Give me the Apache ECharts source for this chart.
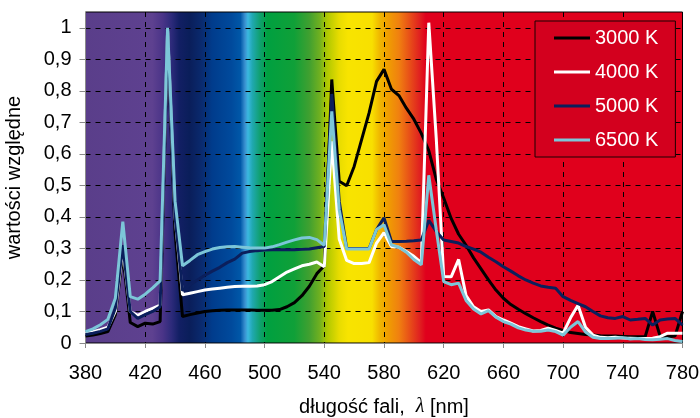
<!DOCTYPE html>
<html>
<head>
<meta charset="utf-8">
<script src="https://cdn.jsdelivr.net/npm/echarts@6/dist/echarts.min.js"></script>
<style>
  html, body { margin: 0; padding: 0; background: #ffffff; }
  #chart { width: 700px; height: 418px; }
</style>
</head>
<body>
<div id="chart"></div>
<script>
// Wavelength grid (nm)
const wavelengths = [380,385,390,395,400,405,410,415,420,425,430,435,440,445,450,455,460,465,470,475,
  480,485,490,495,500,505,510,515,520,525,530,535,540,545,550,555,560,565,570,575,
  580,585,590,595,600,605,610,615,620,625,630,635,640,645,650,655,660,665,670,675,
  680,685,690,695,700,705,710,715,720,725,730,735,740,745,750,755,760,765,770,775,780];

// Relative spectral power of each lamp
const k3000 = [0.022,0.025,0.03,0.036,0.09,0.28,0.065,0.052,0.063,0.06,0.068,0.97,0.35,0.084,0.09,0.095,0.1,0.102,0.104,0.105,
  0.105,0.105,0.105,0.104,0.104,0.104,0.106,0.115,0.128,0.15,0.18,0.22,0.245,0.836,0.513,0.499,0.56,0.645,0.73,0.83,
  0.868,0.805,0.785,0.745,0.71,0.665,0.61,0.52,0.46,0.395,0.345,0.31,0.27,0.235,0.2,0.168,0.142,0.122,0.107,0.093,
  0.08,0.068,0.057,0.047,0.04,0.033,0.03,0.027,0.025,0.023,0.022,0.022,0.021,0.02,0.02,0.02,0.1,0.022,0.02,0.022,0.1];

const k4000 = [0.031,0.036,0.042,0.05,0.1,0.3,0.1,0.088,0.1,0.11,0.12,0.99,0.4,0.153,0.158,0.163,0.168,0.171,0.174,0.177,
  0.179,0.18,0.18,0.181,0.185,0.195,0.21,0.225,0.235,0.245,0.25,0.257,0.242,0.64,0.33,0.262,0.252,0.252,0.255,0.317,
  0.35,0.306,0.304,0.29,0.275,0.255,1.016,0.65,0.211,0.21,0.265,0.15,0.115,0.1,0.105,0.084,0.073,0.063,0.052,0.045,
  0.038,0.04,0.047,0.04,0.031,0.08,0.12,0.05,0.025,0.018,0.017,0.018,0.016,0.015,0.014,0.014,0.015,0.02,0.031,0.031,0.031];

const k5000 = [0.027,0.031,0.037,0.045,0.11,0.31,0.1,0.078,0.09,0.1,0.115,0.98,0.4,0.166,0.185,0.2,0.215,0.228,0.24,0.255,
  0.266,0.285,0.29,0.293,0.295,0.296,0.296,0.296,0.296,0.297,0.298,0.302,0.306,0.79,0.45,0.3,0.3,0.3,0.3,0.36,
  0.397,0.322,0.322,0.323,0.324,0.327,0.389,0.354,0.327,0.322,0.317,0.306,0.298,0.288,0.272,0.258,0.242,0.228,0.213,0.2,
  0.19,0.181,0.177,0.174,0.147,0.135,0.125,0.115,0.1,0.086,0.08,0.078,0.084,0.073,0.075,0.078,0.057,0.073,0.076,0.078,0.057];

const k6500 = [0.036,0.045,0.058,0.075,0.142,0.385,0.147,0.139,0.155,0.175,0.197,1.0,0.45,0.245,0.262,0.28,0.29,0.298,0.303,0.305,
  0.306,0.304,0.302,0.301,0.301,0.305,0.312,0.32,0.327,0.333,0.335,0.328,0.31,0.735,0.423,0.298,0.298,0.298,0.298,0.36,
  0.375,0.311,0.304,0.288,0.265,0.248,0.532,0.36,0.195,0.185,0.19,0.135,0.108,0.092,0.103,0.082,0.068,0.06,0.048,0.041,
  0.037,0.037,0.041,0.036,0.025,0.05,0.068,0.035,0.018,0.014,0.014,0.015,0.017,0.013,0.014,0.011,0.01,0.012,0.014,0.008,0.005];

const seriesNames = ['3000 K', '4000 K', '5000 K', '6500 K'];
const seriesValues = [k3000, k4000, k5000, k6500];
const seriesColors = ['#000000', '#ffffff', '#0b1f5c', '#7cc6d8'];

// Labelled value ticks on the vertical axis
const yTicks = [0, 0.1, 0.2, 0.3, 0.4, 0.5, 0.6, 0.7, 0.8, 0.9, 1];

// Backdrop colours of the visible spectrum: [wavelength nm, colour]
const spectrumStops = [
  [380, '#5a3e8a'], [425, '#5e4190'], [432, '#4a3488'], [438, '#2c2a7a'], [443, '#121f64'],
  [450, '#0a1e5a'], [458, '#0a2a6e'], [465, '#003c8c'], [478, '#004a9c'], [484, '#0058a8'],
  [487, '#3a90d0'], [489, '#3ab8e0'], [492, '#20a8b0'], [497, '#10a070'], [502, '#00a040'],
  [520, '#10a038'], [530, '#40a030'], [537, '#70b020'], [542, '#b0c800'], [550, '#e8dc00'],
  [556, '#f8e400'], [572, '#f8e000'], [577, '#f0b800'], [582, '#f0a000'], [590, '#f08010'],
  [597, '#e85018'], [604, '#e02020'], [608, '#e0001c'], [780, '#e0001c']
];

const FONT = "'Liberation Sans', Arial, sans-serif";
const xMin = 380, xMax = 780;

const spectrum = new echarts.graphic.LinearGradient(0, 0, 1, 0,
  spectrumStops.map(([nm, c]) => ({ offset: (nm - xMin) / (xMax - xMin), color: c })));

const chart = echarts.init(document.getElementById('chart'), null, { renderer: 'canvas' });

chart.setOption({
  animation: false,
  color: seriesColors,
  grid: {
    left: 85.5, right: 17.5, top: 12, bottom: 75,
    outerBoundsMode: 'none',
    containLabel: false,
    show: true,
    backgroundColor: spectrum,
    borderColor: '#000000',
    borderWidth: 1
  },
  legend: {
    data: seriesNames,
    orient: 'vertical',
    left: 535, top: 21,
    padding: [7, 17, 7, 19],
    itemGap: 14,
    itemWidth: 36, itemHeight: 3,
    icon: 'rect',
    backgroundColor: '#d3001e',
    borderColor: '#1a0000',
    borderWidth: 1,
    textStyle: { color: '#ffffff', fontSize: 20, lineHeight: 20, fontFamily: FONT }
  },
  xAxis: {
    type: 'value',
    min: xMin, max: xMax, interval: 40,
    name: '{t|długość fali,  }{l|λ}{t| [nm]}',
    nameLocation: 'middle',
    nameGap: 54,
    nameTextStyle: {
      rich: {
        t: { fontSize: 20, fontFamily: FONT, color: '#000000' },
        l: { fontSize: 20, fontFamily: "'Liberation Serif', 'DejaVu Serif', serif", fontStyle: 'italic', color: '#000000' }
      }
    },
    axisLine: { show: true, lineStyle: { color: '#8a8a8a', width: 1 } },
    axisTick: { show: true, length: 5, lineStyle: { color: '#8a8a8a' } },
    axisLabel: { color: '#000000', fontSize: 20, fontFamily: FONT, margin: 20 },
    splitLine: { show: true, lineStyle: { color: '#000000', width: 1, type: [5, 5] } }
  },
  yAxis: {
    type: 'value',
    min: 0, max: 1.05, interval: 0.1,
    name: 'wartości względne',
    nameLocation: 'middle',
    nameGap: 61,
    nameTextStyle: { fontSize: 20, fontFamily: FONT, color: '#000000' },
    axisLine: { show: true, lineStyle: { color: '#8a8a8a', width: 1 } },
    axisTick: { show: true, length: 6, customValues: yTicks, lineStyle: { color: '#8a8a8a' } },
    axisLabel: {
      customValues: yTicks,
      color: '#000000', fontSize: 20, fontFamily: FONT, margin: 14,
      formatter: v => (v > 1.001 ? '' : String(+v.toFixed(2)).replace('.', ','))
    },
    splitLine: { show: true, lineStyle: { color: '#000000', width: 1, type: [5, 5] } }
  },
  series: seriesNames.map((name, i) => ({
    name,
    type: 'line',
    data: wavelengths.map((w, j) => [w, seriesValues[i][j]]),
    showSymbol: false,
    symbol: 'none',
    clip: true,
    z: 2 + i,
    itemStyle: { color: seriesColors[i] },
    lineStyle: { color: seriesColors[i], width: 3 }
  }))
});
</script>
</body>
</html>
